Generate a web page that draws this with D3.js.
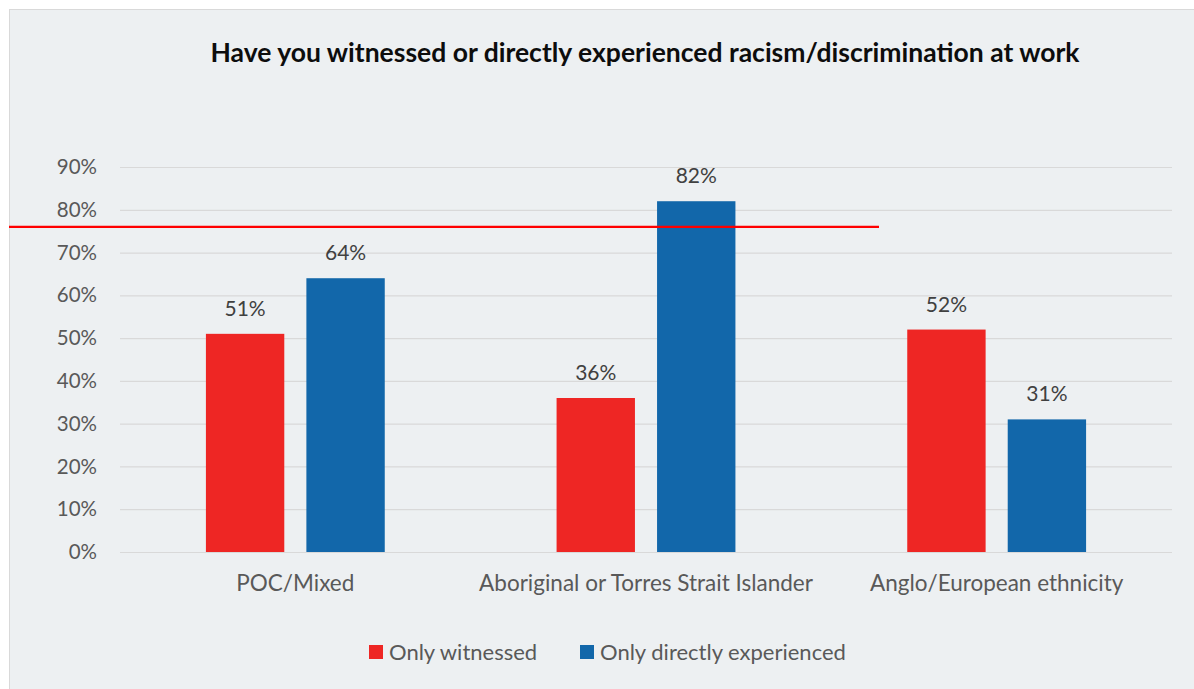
<!DOCTYPE html>
<html>
<head>
<meta charset="utf-8">
<script src="https://cdn.jsdelivr.net/npm/d3@7"></script>
<style>
  html, body { margin: 0; padding: 0; background: #ffffff; }
  svg { display: block; }
</style>
</head>
<body>
<svg id="chart" width="1194" height="689"></svg>
<script>
// Survey responses by ethnicity group (percent)
const categories = ["POC/Mixed", "Aboriginal or Torres Strait Islander", "Anglo/European ethnicity"];
const seriesNames = ["Only witnessed", "Only directly experienced"];
const onlyWitnessed = [51, 36, 52];
const onlyExperienced = [64, 82, 31];
const yTicks = [0, 10, 20, 30, 40, 50, 60, 70, 80, 90];
const referenceLevel = [76];
const colors = ["#ee2624", "#1267aa"];

const svg = d3.select("#chart");
const W = 1194, H = 689;
const labelFont = "Lato, 'Open Sans', sans-serif";

// panel background
svg.append("rect")
  .attr("x", 9.5).attr("y", 9.5)
  .attr("width", W).attr("height", H)
  .attr("fill", "#edf0f2")
  .attr("stroke", "#d9d9d9").attr("stroke-width", 1);

// title
svg.append("text")
  .attr("x", 645).attr("y", 62)
  .attr("text-anchor", "middle")
  .attr("font-family", "Lato, sans-serif")
  .attr("font-weight", "bold")
  .attr("font-size", 26.5)
  .attr("fill", "#0d0d0d")
  .text("Have you witnessed or directly experienced racism/discrimination at work");

const plot = { left: 120, right: 1172, top: 167, bottom: 552 };

const y = d3.scaleLinear().domain([0, 90]).range([plot.bottom, plot.top]);
const x0 = d3.scaleBand().domain(categories)
  .range([plot.left, plot.right]).paddingInner(0.49).paddingOuter(0.245);
const x1 = d3.scaleBand().domain(seriesNames)
  .range([0, x0.bandwidth()]).paddingInner(0.22).paddingOuter(0);

// gridlines + y labels
const yAxis = d3.axisLeft(y).tickValues(yTicks)
  .tickSize(-(plot.right - plot.left))
  .tickPadding(23)
  .tickFormat(d => d + "%");
const gy = svg.append("g")
  .attr("transform", `translate(${plot.left},0)`)
  .call(yAxis);
gy.select(".domain").remove();
gy.selectAll(".tick line").attr("stroke", "#d9d9d9").attr("stroke-width", 1.2);
gy.selectAll(".tick text")
  .attr("font-family", labelFont).attr("font-size", 20.5)
  .attr("fill", "#595959");

// x category labels
const xAxis = d3.axisBottom(x0).tickSize(0).tickPadding(23);
const gx = svg.append("g")
  .attr("transform", `translate(0,${plot.bottom})`)
  .call(xAxis);
gx.select(".domain").remove();
gx.selectAll(".tick text")
  .attr("font-family", labelFont).attr("font-size", 22.5)
  .attr("fill", "#595959");

// bars
const rows = categories.map((c, i) => ({
  category: c,
  values: [
    { key: seriesNames[0], value: onlyWitnessed[i], color: colors[0] },
    { key: seriesNames[1], value: onlyExperienced[i], color: colors[1] }
  ]
}));

const groups = svg.append("g").selectAll("g")
  .data(rows).join("g")
  .attr("transform", d => `translate(${x0(d.category)},0)`);

groups.selectAll("rect")
  .data(d => d.values).join("rect")
  .attr("x", d => x1(d.key))
  .attr("y", d => y(d.value))
  .attr("width", x1.bandwidth())
  .attr("height", d => y(0) - y(d.value))
  .attr("fill", d => d.color);

groups.selectAll("text")
  .data(d => d.values).join("text")
  .attr("x", d => x1(d.key) + x1.bandwidth() / 2)
  .attr("y", d => y(d.value) - 18)
  .attr("text-anchor", "middle")
  .attr("font-family", labelFont).attr("font-size", 21)
  .attr("fill", "#404040")
  .text(d => d.value + "%");

// reference line
svg.append("g").selectAll("line")
  .data(referenceLevel).join("line")
  .attr("x1", 9).attr("x2", 879)
  .attr("y1", d => y(d)).attr("y2", d => y(d))
  .attr("stroke", "#ff0000").attr("stroke-width", 2.2);

// legend
const legendX = [369, 580];
const legend = svg.append("g").selectAll("g")
  .data(seriesNames).join("g")
  .attr("transform", (d, i) => `translate(${legendX[i]},645)`);
legend.append("rect")
  .attr("width", 14).attr("height", 14)
  .attr("fill", (d, i) => colors[i]);
legend.append("text")
  .attr("x", 20).attr("y", 15)
  .attr("font-family", labelFont).attr("font-size", 22)
  .attr("fill", "#595959")
  .text(d => d);
</script>
</body>
</html>
